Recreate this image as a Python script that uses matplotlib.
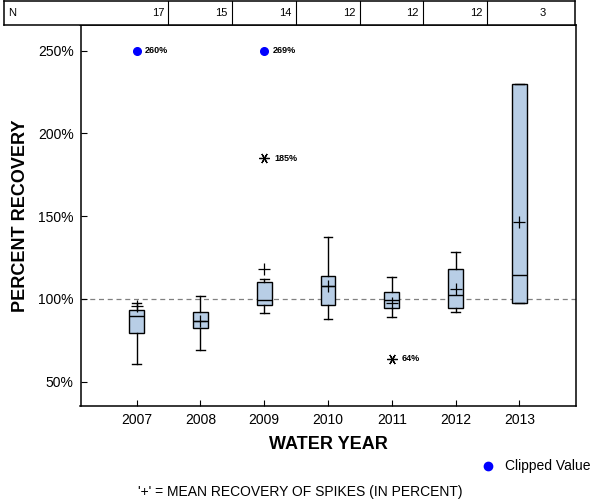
#
# python3 plot.py
#
import matplotlib
matplotlib.use("Agg")
import matplotlib.pyplot as plt

plt.rcParams['font.family'] = ['Liberation Sans', 'DejaVu Sans']

years = ['2007', '2008', '2009', '2010', '2011', '2012', '2013']
n_samples = [17, 15, 14, 12, 12, 12, 3]
q1 = [79.2, 82.4, 96.1, 96.1, 94.3, 94.3, 97.3]
med = [89.4, 86.8, 99.3, 107.7, 99.3, 102.1, 114.2]
q3 = [93.1, 92.2, 109.9, 113.6, 103.9, 117.8, 229.5]
whis_lo = [60.7, 68.9, 91.3, 87.8, 88.8, 91.9, 97.3]
whis_hi = [97.6, 101.9, 111.8, 137.1, 113.0, 128.6, 229.5]
means = [95.8, 86.6, 118.1, 107.7, 97.3, 105.7, 146.7]
outliers = [[], [], [185], [], [64], [], []]
# values above the axis max, drawn at 250%
clip_year_idx = [0, 2]
clip_values = [260, 269]
clip_at = 250

W, H = 600, 500
fig = plt.figure(figsize=(6, 5), dpi=100)
ax = fig.add_axes([80.5 / W, (H - 405.7) / H, 495 / W, (405.7 - 25) / H])

stats = []
for i in range(len(years)):
    stats.append(dict(med=med[i], q1=q1[i], q3=q3[i], whislo=whis_lo[i],
                      whishi=whis_hi[i], mean=means[i], fliers=[]))
pos = list(range(len(years)))
ax.bxp(stats, positions=pos, widths=0.235, capwidths=0.14, patch_artist=True,
       showmeans=True, showfliers=False,
       boxprops=dict(facecolor='#b8cee6', edgecolor='black', linewidth=1.0),
       medianprops=dict(color='black', linewidth=1.0),
       whiskerprops=dict(color='black', linewidth=1.0),
       capprops=dict(color='black', linewidth=1.0),
       meanprops=dict(marker='+', markeredgecolor='black', markersize=8,
                      markeredgewidth=0.9))

# outliers with value labels
for i, vals in enumerate(outliers):
    for v in vals:
        ax.plot(i, v, marker=(6, 2, 90), color='black', markersize=7.5,
                markeredgewidth=0.9, linestyle='none')
        ax.annotate('%d%%' % v, (i, v), xytext=(7, 0), textcoords='offset points',
                    va='center', fontsize=6.5, fontweight='bold')

# clipped values
for i, v in zip(clip_year_idx, clip_values):
    ax.plot(i, clip_at, 'o', color='#0000ff', markersize=5.5, linestyle='none')
    ax.annotate('%d%%' % v, (i, clip_at), xytext=(6, 0), textcoords='offset points',
                va='center', fontsize=6.5, fontweight='bold')

ax.axhline(100, color='#808080', linewidth=0.9, dashes=(4, 3), zorder=0)

ax.set_xlim(-0.881, 6.881)
ax.set_ylim(35.5, 265.4)
ax.set_xticks(pos)
ax.set_xticklabels(years, fontsize=10)
ax.set_yticks([50, 100, 150, 200, 250])
ax.set_yticklabels(['50%', '100%', '150%', '200%', '250%'], fontsize=10)
ax.tick_params(direction='in', length=4, width=0.8, top=False, right=False, pad=5)
for s in ax.spines.values():
    s.set_linewidth(1.1)
ax.set_xlabel('WATER YEAR', fontsize=13, fontweight='bold', labelpad=7)
ax.set_ylabel('PERCENT RECOVERY', fontsize=13, fontweight='bold', labelpad=6)

# N table on top
tax = fig.add_axes([4 / W, (H - 25) / H, 571 / W, 24.3 / H])
tax.set_xlim(-2.081, 6.881)
tax.set_ylim(0, 1)
tax.set_xticks([])
tax.set_yticks([])
for s in tax.spines.values():
    s.set_linewidth(1.1)
for i in range(len(years) - 1):
    tax.axvline(i + 0.5, color='black', linewidth=0.8)
tax.text(-2.081 + 0.07, 0.5, 'N', va='center', ha='left', fontsize=8)
for i, n in enumerate(n_samples):
    tax.text(i + 0.5 - 0.07, 0.5, str(n), va='center', ha='right', fontsize=8)

# legend and footnote
fig.text(505 / W, 1 - 466 / H, 'Clipped Value', fontsize=10, va='center')
fig.lines.append(plt.Line2D([488 / W], [1 - 466 / H], marker='o', color='#0000ff',
                            markersize=6, transform=fig.transFigure))
fig.text(300 / W, 1 - 492 / H, "'+' = MEAN RECOVERY OF SPIKES (IN PERCENT)",
         fontsize=10, ha='center', va='center')

fig.savefig('out.png', dpi=100)
